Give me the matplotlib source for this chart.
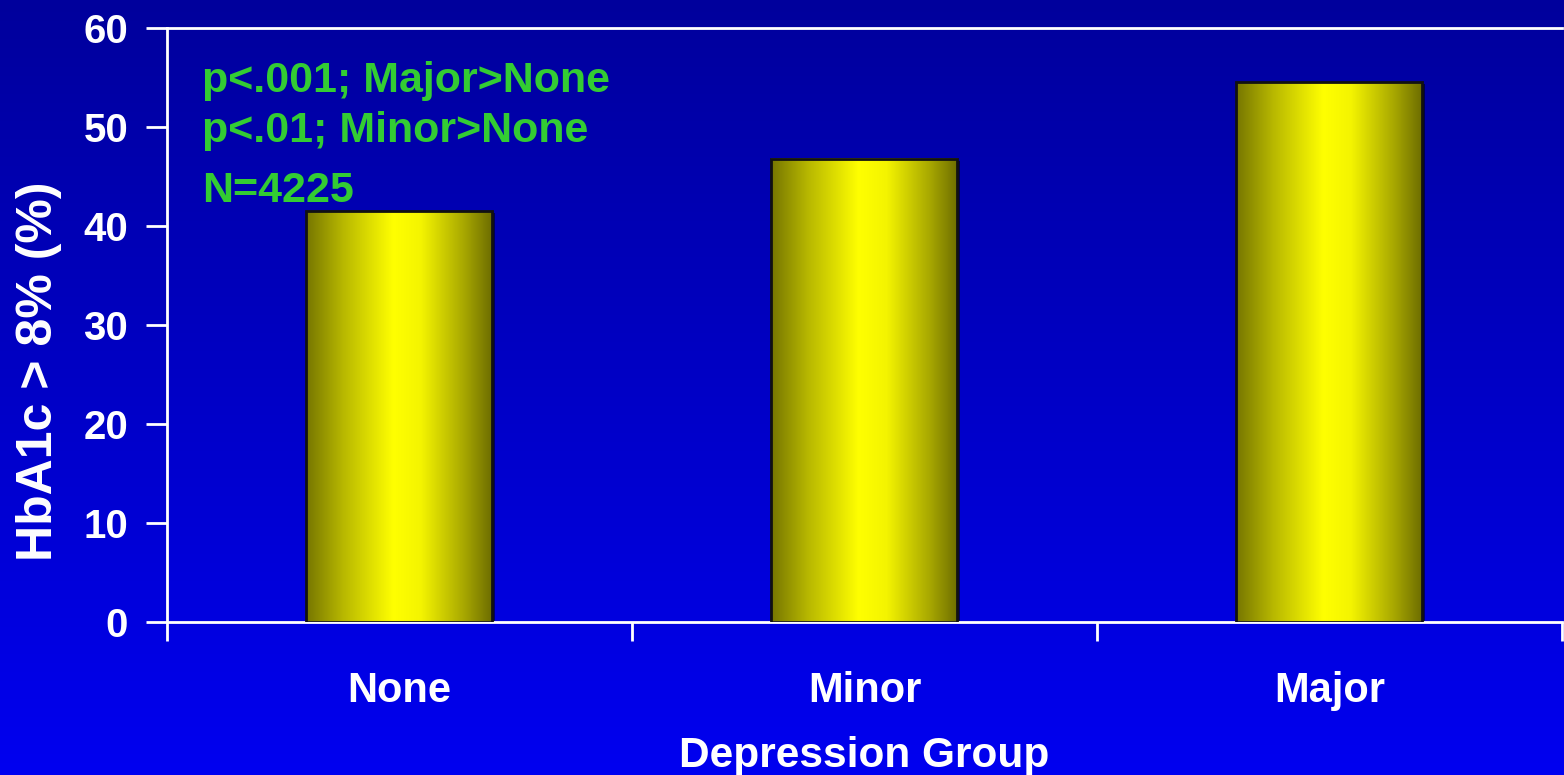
import numpy as np
import matplotlib
matplotlib.use("Agg")
import matplotlib.pyplot as plt
from matplotlib.colors import LinearSegmentedColormap
import matplotlib.transforms as mtransforms

categories = ["None", "Minor", "Major"]
values = [41.5, 46.8, 54.5]
yticks = [0, 10, 20, 30, 40, 50, 60]
annotations = ["p<.001; Major>None", "p<.01; Minor>None", "N=4225"]
ylabel = "HbA1c > 8% (%)"
xlabel = "Depression Group"

FONT = ["Liberation Sans", "DejaVu Sans"]

fig = plt.figure(figsize=(15.64, 7.75), dpi=100)

# background gradient
bg = fig.add_axes([0, 0, 1, 1], zorder=-10)
bg.axis("off")
grad = np.linspace(0, 1, 256).reshape(-1, 1)
bgcmap = LinearSegmentedColormap.from_list("bg", ["#00009c", "#0000f0"])
bg.imshow(grad, aspect="auto", cmap=bgcmap, extent=[0, 1, 0, 1], origin="upper")

ax = fig.add_axes([167/1564, 1-622/775, (1562-167)/1564, (622-28)/775])
ax.set_facecolor("none")
x = np.arange(len(categories))

barcmap = LinearSegmentedColormap.from_list(
    "bar", [(0.0, "#767600"), (0.2, "#b8b800"), (0.47, "#ffff00"),
            (0.62, "#f4f400"), (0.85, "#a8a800"), (1.0, "#6e6e00")])
hgrad = np.linspace(0, 1, 256).reshape(1, -1)

width = 0.4
shadow_tr = ax.transData + mtransforms.ScaledTranslation(3/100, -2/100, fig.dpi_scale_trans)
for xi, v in zip(x, values):
    sh = plt.Rectangle((xi - width/2, 0), width, v, transform=shadow_tr,
                       facecolor="#000000", alpha=0.55, edgecolor="none", zorder=1)
    ax.add_patch(sh)
bars = ax.bar(x, values, width=width, color="none", edgecolor="#111111",
              linewidth=2, zorder=3)
for b in bars:
    x0, w, h = b.get_x(), b.get_width(), b.get_height()
    ax.imshow(hgrad, aspect="auto", cmap=barcmap, extent=[x0, x0 + w, 0, h],
              zorder=2, interpolation="bilinear")
ax.set_xlim(-0.5, 2.5)
ax.set_ylim(0, 60)

for s in ["left", "bottom", "top"]:
    ax.spines[s].set_color("white")
    ax.spines[s].set_linewidth(2)
ax.spines["right"].set_visible(False)

ax.set_yticks(yticks)
ax.set_yticklabels([str(t) for t in yticks], family=FONT, weight="bold",
                   fontsize=29, color="white")
ax.tick_params(axis="y", colors="white", length=15, width=2, pad=13,
               direction="out")

ax.set_xticks(x)
ax.set_xticklabels(categories, family=FONT, weight="bold", fontsize=30,
                   color="white")
ax.set_xticks([-0.5, 0.5, 1.5, 2.5], minor=True)
ax.tick_params(axis="x", which="major", length=0, pad=35)
ax.tick_params(axis="x", which="minor", length=14, width=2, colors="white",
               direction="out")

ax.set_ylabel(ylabel, family=FONT, weight="bold", fontsize=36, color="white",
              va="center")
ax.yaxis.set_label_coords(-0.0918, 0.4226)

ax.text(0.5, -0.2441, xlabel, transform=ax.transAxes, family=FONT,
        weight="bold", fontsize=30.5, color="white", ha="center", va="baseline")

ys = [0.892, 0.808, 0.707]
for t, yy in zip(annotations, ys):
    ax.text(0.025, yy, t, transform=ax.transAxes, family=FONT, weight="bold",
            fontsize=31, color="#33cc33", va="baseline", ha="left", zorder=5)

fig.savefig("out.png", dpi=100)
